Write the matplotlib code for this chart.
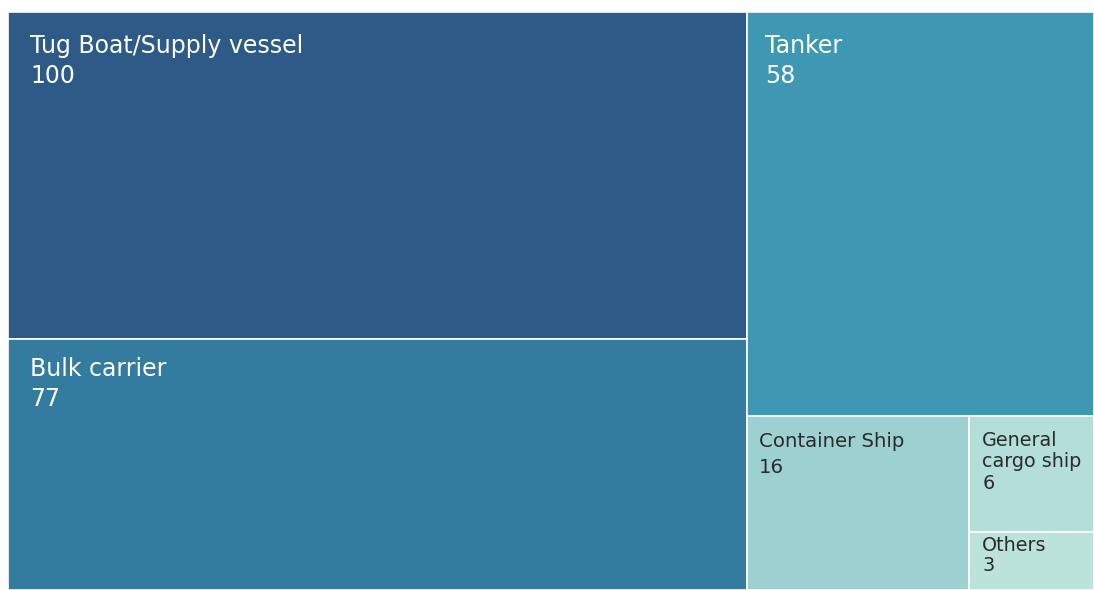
import matplotlib
matplotlib.use("Agg")
import matplotlib.pyplot as plt
from matplotlib.patches import Rectangle
from matplotlib.transforms import offset_copy

categories = ["Tug Boat/Supply vessel", "Bulk carrier", "Tanker",
              "Container Ship", "General cargo ship", "Others"]
values = [100, 77, 58, 16, 6, 3]
display_labels = ["Tug Boat/Supply vessel", "Bulk carrier", "Tanker",
                  "Container Ship", "General\ncargo ship", "Others"]
colors = ["#2D5A87", "#337C9F", "#3E98B4", "#9DD1D1", "#B3DFD8", "#BCE3DA"]

# hierarchy of the treemap (indices into categories)
tree = [[0, 1], [2, [3, [4, 5]]]]


def total(node):
    if isinstance(node, list):
        return sum(total(n) for n in node)
    return values[node]


def layout(node, x, y, w, h, horizontal, out):
    if not isinstance(node, list):
        out[node] = (x, y, w, h)
        return
    t = total(node)
    pos = 0.0
    for child in node:
        frac = total(child) / t
        if horizontal:
            layout(child, x + pos * w, y, w * frac, h, not horizontal, out)
        else:
            layout(child, x, y + pos * h, w, h * frac, not horizontal, out)
        pos += frac


rects = {}
layout(tree, 0.0, 0.0, 1.0, 1.0, True, rects)

plt.rcParams['font.family'] = ['DejaVu Sans']
fig = plt.figure(figsize=(10.94, 5.90), dpi=100)
ax = fig.add_axes([8 / 1094, 0, 1086 / 1094, 578 / 590])
ax.set_xlim(0, 1)
ax.set_ylim(1, 0)
ax.axis("off")

# text style: (dx px, first baseline px, line gap px, fontsize, color)
big = dict(dx=22, base=41, gap=30, size=17, color="white")
styles = {
    "Tug Boat/Supply vessel": big,
    "Bulk carrier": dict(big, base=37),
    "Tanker": dict(big, dx=18),
    "Container Ship": dict(dx=12, base=31, gap=26, size=14.2, color="#2b2b2b"),
    "General cargo ship": dict(dx=13, base=30, gap=21.5, size=13.8, color="#2b2b2b"),
    "Others": dict(dx=13, base=19, gap=20, size=13.8, color="#2b2b2b"),
}

for i, cat in enumerate(categories):
    x, y, w, h = rects[i]
    ax.add_patch(Rectangle((x, y), w, h, facecolor=colors[i],
                           edgecolor="white", linewidth=1.2))
    st = styles[cat]
    lines = display_labels[i].split("\n") + [str(values[i])]
    for k, line in enumerate(lines):
        tr = offset_copy(ax.transData, fig=fig, x=st["dx"],
                         y=-(st["base"] + k * st["gap"]), units="dots")
        ax.text(x, y, line, transform=tr, ha="left", va="baseline",
                fontsize=st["size"], color=st["color"])

fig.savefig("out.png", dpi=100)
